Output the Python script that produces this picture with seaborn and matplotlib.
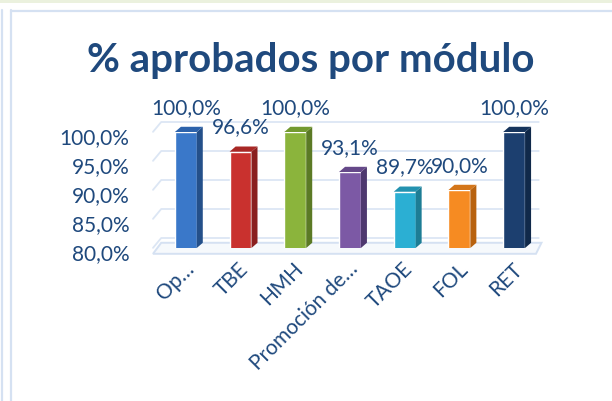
import numpy as np
import seaborn as sns
import matplotlib.pyplot as plt
from matplotlib.patches import Polygon, Rectangle
from matplotlib.lines import Line2D
import matplotlib.transforms as mtransforms

modulos = ["Op…", "TBE", "HMH", "Promoción de…", "TAOE", "FOL", "RET"]
aprobados = [100.0, 96.6, 100.0, 93.1, 89.7, 90.0, 100.0]
yticks = [80, 85, 90, 95, 100]

front = ["#3A78C9", "#C9312E", "#8BB43C", "#7C59A5", "#2BAFD3", "#F68B22", "#1C3F6F"]
side = ["#24508A", "#8A1F1F", "#5B7A25", "#4E386F", "#1D7D95", "#B8620F", "#10294A"]
top = ["#2C62AB", "#A82825", "#739A30", "#654889", "#2392B0", "#D4761A", "#16345C"]

txt = "#1F497D"
fs = 15
sns.set_theme(style="white")
plt.rcParams["font.family"] = ["Lato", "DejaVu Sans"]

fig = plt.figure(figsize=(6.12, 4.01), dpi=100)
W, H = 612, 401
# axes: x from px 153 to 536, y from px 132 (100%) to 248 (80%)
ax = fig.add_axes([153 / W, 1 - 248 / H, 383 / W, 116 / H])

sns.barplot(x=modulos, y=aprobados, hue=modulos, palette=front, width=0.4,
            legend=False, ax=ax, zorder=3, saturation=1)
ax.set_xlim(-0.6, 6.4)
ax.set_ylim(80, 100)

# back-wall gridlines and floor (pseudo 3D)
off = mtransforms.ScaledTranslation(0, 10 / 100, fig.dpi_scale_trans)
for v in yticks:
    ax.plot([-0.6, -0.45, 6.45], [v - 1.7, v, v], color="#DCE6F4", lw=1.3,
            transform=ax.transData + off, clip_on=False, zorder=1)
ax.add_patch(Polygon([(-0.6, 79.0), (6.4, 79.0), (6.5, 80.9), (-0.45, 80.9)],
                     closed=True, facecolor="#F6F9FC", edgecolor="#D5E1F2",
                     lw=1.4, clip_on=False, zorder=2))

dx, dy = 0.11, 0.9
for i, p in enumerate(ax.patches[:len(modulos)]):
    x0, w, h = p.get_x(), p.get_width(), p.get_height()
    ax.add_patch(Polygon([(x0 + w, 80), (x0 + w, h), (x0 + w + dx, h + dy), (x0 + w + dx, 80 + dy)],
                         closed=True, facecolor=side[i], edgecolor="none", clip_on=False, zorder=3))
    ax.add_patch(Polygon([(x0, h), (x0 + w, h), (x0 + w + dx, h + dy), (x0 + dx, h + dy)],
                         closed=True, facecolor=top[i], edgecolor="none", clip_on=False, zorder=3))
    ax.text(x0 + w / 2, h + 4.2, f"{h:.1f}%".replace(".", ","), ha="center", va="center",
            fontsize=fs, color=txt, zorder=5)

for s in ax.spines.values():
    s.set_visible(False)
ax.set_facecolor("none")
ax.set_yticks(yticks)
ax.set_yticklabels([f"{v:.1f}%".replace(".", ",") for v in yticks], fontsize=fs, color=txt)
ax.tick_params(axis="y", length=0, pad=17)
ax.tick_params(axis="x", length=0, pad=13)
ax.set_xticks(range(len(modulos)))
ax.set_xticklabels(modulos, rotation=45, ha="right", va="center",
                   rotation_mode="anchor", fontsize=fs, color=txt)
ax.set_xlabel("")
ax.set_ylabel("")

# small nudges to mimic the 3D label placement
shift_y = mtransforms.ScaledTranslation(0, -4 / 100, fig.dpi_scale_trans)
for lab in ax.get_yticklabels():
    lab.set_transform(lab.get_transform() + shift_y)
shift_x = mtransforms.ScaledTranslation(5 / 100, 0, fig.dpi_scale_trans)
for lab in ax.get_xticklabels():
    lab.set_transform(lab.get_transform() + shift_x)

fig.text(311 / W, 1 - 72 / H, "% aprobados por módulo", ha="center", va="baseline",
         fontsize=29, fontweight="bold", color=txt)

# frame decorations
fig.add_artist(Rectangle((0, 1 - 3 / H), 1, 3 / H, transform=fig.transFigure,
                         facecolor="#EBF1DE", edgecolor="none"))
fig.add_artist(Line2D([10.5 / W, 10.5 / W], [0, 1 - 10 / H], transform=fig.transFigure,
                      color="#D5E1F2", lw=1.6))
fig.add_artist(Line2D([1.5 / W, 1.5 / W], [0, 1 - 10 / H], transform=fig.transFigure,
                      color="#D5E1F2", lw=1.6))
fig.add_artist(Line2D([10.5 / W, 1], [1 - 10.5 / H, 1 - 10.5 / H], transform=fig.transFigure,
                      color="#D5E1F2", lw=1.6))

fig.savefig("out.png", dpi=100)
